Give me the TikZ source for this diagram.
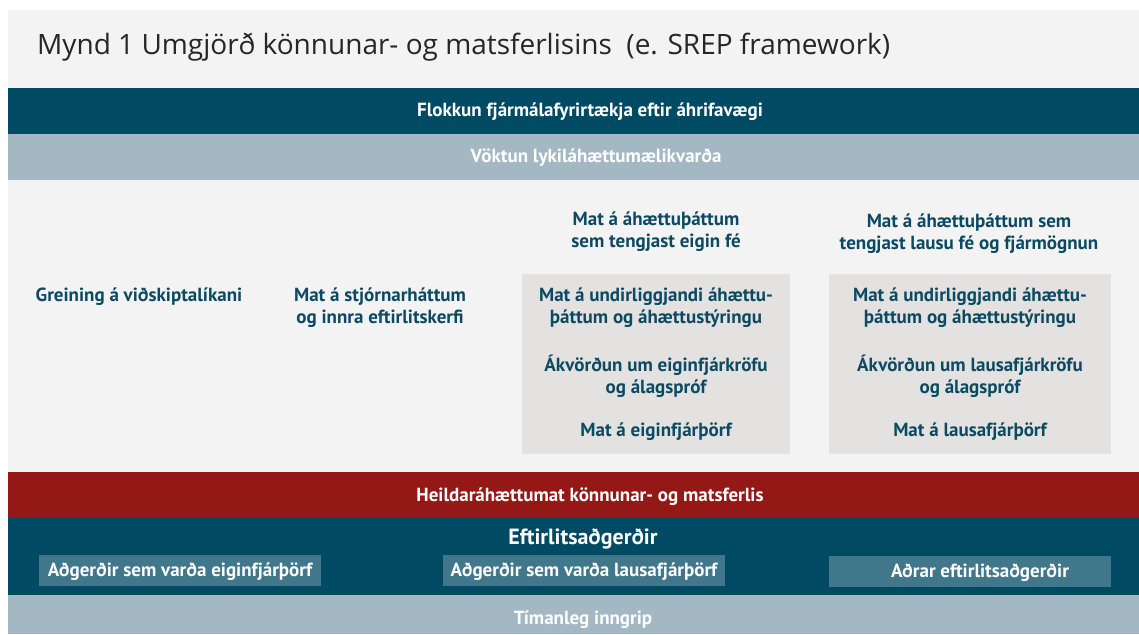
\documentclass[tikz,border=0pt]{standalone}
\usepackage{fontspec}
\setmainfont{PT Sans}
\newfontfamily\titlefont{Open Sans}
\definecolor{bggray}{HTML}{F3F3F3}
\definecolor{darkteal}{HTML}{004A63}
\definecolor{lightband}{HTML}{A4B8C3}
\definecolor{boxgray}{HTML}{E3E2E1}
\definecolor{darkred}{HTML}{931816}
\definecolor{midteal}{HTML}{41778A}
\definecolor{tealtext}{HTML}{0B4A62}
\definecolor{titlegray}{HTML}{262626}
\tikzset{
  bandtext/.style={font=\bfseries\fontsize{19}{22}\selectfont, text=white, inner sep=0pt},
  bodytext/.style={font=\bfseries\fontsize{19}{22}\selectfont, text=tealtext, align=center, inner sep=0pt},
  actbox/.style={fill=midteal},
}
\begin{document}
\begin{tikzpicture}[x=1pt,y=-1pt]
\useasboundingbox (0,0) rectangle (1139,634);
\fill[white] (0,0) rectangle (1139,634);
\fill[bggray] (8,10) rectangle (1139,634);
% bands
\fill[darkteal] (8,88) rectangle (1139,134);
\fill[lightband] (8,134) rectangle (1139,180);
\fill[darkred] (8,472) rectangle (1139,518);
\fill[darkteal] (8,518) rectangle (1139,595);
\fill[lightband] (8,595) rectangle (1139,634);
% gray boxes
\fill[boxgray] (522,274) rectangle (790,454);
\fill[boxgray] (829,274) rectangle (1111,454);
% action boxes
\fill[actbox] (39,555) rectangle (321,586);
\fill[actbox] (443,555) rectangle (725,586);
\fill[actbox] (829,556) rectangle (1111,587);

\node[anchor=west, font=\titlefont\fontsize{28}{30}\selectfont, text=titlegray, inner sep=0pt] (title) at (37,47)
  {Mynd 1 Umgjörð könnunar- og matsferlisins\ \ (e. SREP framework)};

\node[bandtext] (flokkun) at (590,112) {Flokkun fjármálafyrirtækja eftir áhrifavægi};
\node[bandtext] (voktun) at (596,158) {Vöktun lykiláhættumælikvarða};

\node[bodytext] (greining) at (139,297) {Greining á viðskiptalíkani};
\node[bodytext] (stjorn) at (380,308) {Mat á stjórnarháttum\\og innra eftirlitskerfi};
\node[bodytext] (eiginhead) at (656,232) {Mat á áhættuþáttum\\sem tengjast eigin fé};
\node[bodytext] (lausthead) at (969,234) {Mat á áhættuþáttum sem\\tengjast lausu fé og fjármögnun};

\node[bodytext] (e1) at (656,308) {Mat á undirliggjandi áhættu-\\þáttum og áhættustýringu};
\node[bodytext] (e2) at (656,376) {Ákvörðun um eiginfjárkröfu\\og álagspróf};
\node[bodytext] (e3) at (656,432) {Mat á eiginfjárþörf};
\node[bodytext] (l1) at (970,308) {Mat á undirliggjandi áhættu-\\þáttum og áhættustýringu};
\node[bodytext] (l2) at (970,376) {Ákvörðun um lausafjárkröfu\\og álagspróf};
\node[bodytext] (l3) at (970,432) {Mat á lausafjárþörf};

\node[bandtext] (heild) at (590,497) {Heildaráhættumat könnunar- og matsferlis};
\node[bandtext, font=\bfseries\fontsize{22}{24}\selectfont] (eftirlit) at (583,539) {Eftirlitsaðgerðir};
\node[bandtext] (a1) at (180,572) {Aðgerðir sem varða eiginfjárþörf};
\node[bandtext] (a2) at (584,572) {Aðgerðir sem varða lausafjárþörf};
\node[bandtext] (a3) at (980,573) {Aðrar eftirlitsaðgerðir};
\node[bandtext] (timan) at (583,620) {Tímanleg inngrip};
\end{tikzpicture}
\end{document}
